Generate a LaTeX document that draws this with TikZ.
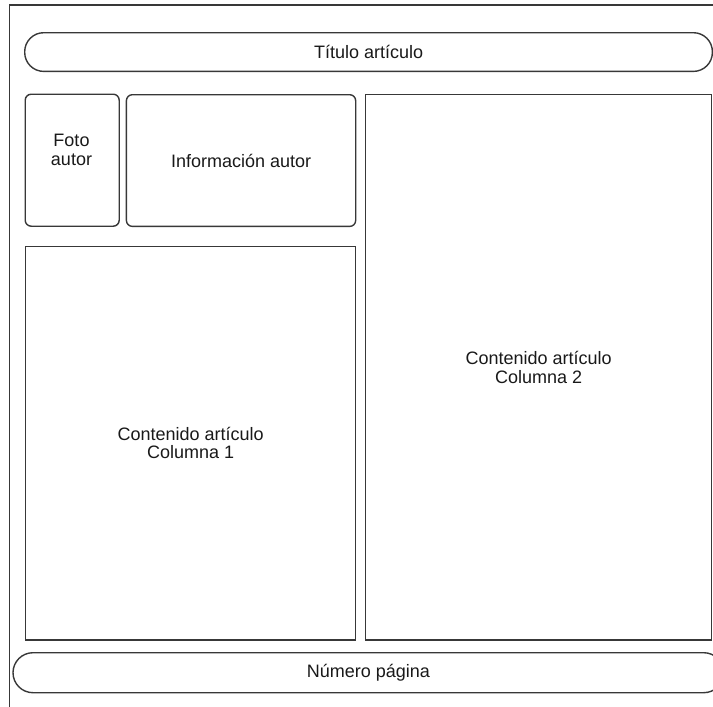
\documentclass[tikz,border=0pt]{standalone}
\usepackage{fontspec}
\setmainfont{Liberation Sans}
\begin{document}
\begin{tikzpicture}[x=1pt,y=-1pt,
  box/.style={draw=black!78, line width=1.4pt, inner sep=0pt, anchor=north west,
    font=\fontsize{18}{18.5}\selectfont, align=center, text=black!90},
  pill/.style={box, rounded corners=19pt},
  card/.style={box, rounded corners=6pt},
  frameline/.style={draw=black!78, line width=1.4pt},
  txt/.style={inner sep=0pt, font=\fontsize{18}{18.5}\selectfont, align=center, text=black!90}]
\useasboundingbox (0,0) rectangle (713,707);
\clip (0,0) rectangle (713,707);
\coordinate (fbl) at (9.3,720);
\coordinate (ftl) at (9.3,5);
\coordinate (ftr) at (730,5);
\draw[frameline] (fbl) -- (ftl) -- (ftr);
\node[pill, minimum width=687.7pt, minimum height=38.7pt] (title) at (24,32) {Título artículo};
\node[card, minimum width=94pt, minimum height=132pt] (foto) at (24.5,93.5) {};
\node[txt] (fototext) at (71.5,150) {Foto\\autor};
\node[card, minimum width=229.3pt, minimum height=131.7pt] (info) at (125.7,94) {Información autor};
\node[box, minimum width=330pt, minimum height=393.6pt] (col1) at (25,245.7) {Contenido artículo\\Columna 1};
\node[box, minimum width=345.7pt, minimum height=545.3pt] (col2) at (365,94) {Contenido artículo\\Columna 2};
\node[pill, rounded corners=20pt, minimum width=710.7pt, minimum height=40pt] (page) at (12.3,652) {Número página};
\end{tikzpicture}
\end{document}
